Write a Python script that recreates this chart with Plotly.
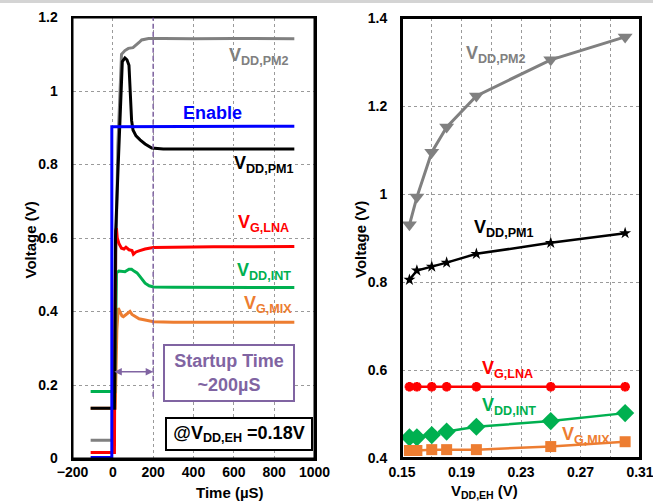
import plotly.graph_objects as go

# ---------------- Left panel: transient waveforms (time in uS, voltage in V) ----------------
t_enable = [-110, -5, -5, 100, 300, 500, 700, 900]
v_enable = [0.003, 0.003, 0.903, 0.903, 0.904, 0.903, 0.904, 0.904]

t_pm2 = [-110, 5, 8, 15, 25, 35, 43, 60, 77, 100, 118, 130, 143, 160, 177, 250, 400, 600, 900]
v_pm2 = [0.05, 0.05, 0.15, 0.55, 0.85, 1.0, 1.10, 1.11, 1.116, 1.118, 1.125, 1.132, 1.139, 1.142, 1.143, 1.143, 1.142, 1.143, 1.142]

t_pm1 = [-110, 8, 10, 13, 26, 38, 47, 60, 70, 80, 85, 90, 93, 100, 115, 135, 160, 193, 250, 400, 600, 900]
v_pm1 = [0.137, 0.137, 0.3, 0.6, 0.79, 0.975, 1.08, 1.09, 1.085, 1.07, 0.99, 0.95, 0.92, 0.894, 0.878, 0.867, 0.856, 0.845, 0.842, 0.842, 0.842, 0.842]

t_lna = [-110, 8, 10, 14, 18, 22, 30, 43, 55, 65, 80, 95, 102, 115, 130, 160, 200, 300, 500, 700, 900]
v_lna = [0.016, 0.016, 0.3, 0.62, 0.627, 0.60, 0.585, 0.572, 0.57, 0.575, 0.568, 0.566, 0.556, 0.562, 0.565, 0.57, 0.574, 0.575, 0.576, 0.576, 0.577]

t_int = [-110, 10, 14, 18, 30, 60, 80, 93, 105, 120, 135, 150, 160, 180, 202, 300, 500, 700, 900]
v_int = [0.182, 0.182, 0.35, 0.505, 0.51, 0.508, 0.515, 0.515, 0.51, 0.505, 0.495, 0.482, 0.477, 0.47, 0.467, 0.466, 0.466, 0.465, 0.465]

t_mix = [-110, 12, 16, 20, 27, 35, 45, 52, 65, 75, 85, 95, 110, 130, 160, 202, 300, 500, 700, 900]
v_mix = [0.137, 0.137, 0.25, 0.35, 0.409, 0.40, 0.388, 0.386, 0.392, 0.398, 0.40, 0.392, 0.386, 0.38, 0.377, 0.372, 0.371, 0.371, 0.370, 0.371]

startup_time = 200
vdd_eh_note = "@V<sub>DD,EH</sub> =0.18V"

left_xticks = [-200, 0, 200, 400, 600, 800, 1000]
left_yticks = [0, 0.2, 0.4, 0.6, 0.8, 1.0, 1.2]

# ---------------- Right panel: DC levels vs V_DD,EH ----------------
vdd_eh = [0.155, 0.16, 0.17, 0.18, 0.2, 0.25, 0.3]
r_pm2 = [0.93, 0.993, 1.095, 1.152, 1.223, 1.305, 1.357]
r_pm1 = [0.805, 0.826, 0.835, 0.844, 0.864, 0.889, 0.911]
r_lna = [0.562, 0.562, 0.562, 0.562, 0.562, 0.562, 0.562]
r_int = [0.447, 0.447, 0.452, 0.46, 0.471, 0.484, 0.502]
r_mix = [0.417, 0.417, 0.419, 0.419, 0.419, 0.426, 0.437]

right_xticks = [0.15, 0.19, 0.23, 0.27, 0.31]
right_xlabels = ["0.15", "0.19", "0.23", "0.27", "0.31"]
right_xminor = [0.17, 0.21, 0.25, 0.29]
right_yticks = [0.4, 0.6, 0.8, 1.0, 1.2, 1.4]

GRAY = "#808080"
BLACK = "#000000"
BLUE = "#0000FF"
RED = "#FF0000"
GREEN = "#00B050"
ORANGE = "#ED7D31"
PURPLE = "#8064A2"
FONT = "Liberation Sans"
GRID = "#9A9A9A"

fig = go.Figure()

# left traces (drawing order: gray, orange, green, red, black, blue)
for t, v, c in [(t_pm2, v_pm2, GRAY), (t_mix, v_mix, ORANGE), (t_int, v_int, GREEN),
                (t_lna, v_lna, RED), (t_pm1, v_pm1, BLACK), (t_enable, v_enable, BLUE)]:
    fig.add_trace(go.Scatter(x=t, y=v, mode="lines", line=dict(color=c, width=3),
                             xaxis="x", yaxis="y", showlegend=False, hoverinfo="skip"))

# right traces
for y, c, sym, sz in [(r_pm2, GRAY, "triangle-down", 13), (r_pm1, BLACK, "star", 9),
                      (r_lna, RED, "asterisk-open", 8), (r_int, GREEN, "diamond", 14),
                      (r_mix, ORANGE, "square", 11)]:
    mk = dict(symbol=sym, size=sz, color=c)
    if sym == "asterisk-open":
        mk["line"] = dict(color=c, width=3)
    fig.add_trace(go.Scatter(x=vdd_eh, y=y, mode="lines+markers",
                             line=dict(color=c, width=3 if c == GRAY else 2.5),
                             marker=mk, xaxis="x2", yaxis="y2", showlegend=False))

H, W = 502, 653
axis_common = dict(showline=True, linewidth=2, linecolor="black", mirror=True,
                   showgrid=True, gridcolor=GRID, griddash="dot", gridwidth=1,
                   ticks="", zeroline=False, automargin=False, ticklabeloverflow="allow",
                   tickfont=dict(family=FONT, size=14, color="black", weight="bold"))

fig.update_layout(
    width=W, height=H,
    margin=dict(l=0, r=0, t=0, b=0, autoexpand=False),
    paper_bgcolor="white", plot_bgcolor="white",
    xaxis=dict(domain=[72.5 / W, 314.5 / W], range=[-200, 1000], tickvals=left_xticks,
               anchor="y", ticklabelstandoff=0, **axis_common),
    yaxis=dict(domain=[1 - 458.5 / H, 1 - 17.5 / H], range=[0, 1.2], tickvals=left_yticks,
               anchor="x", ticklabelstandoff=10, **axis_common),
    xaxis2=dict(domain=[402 / W, 640 / W], range=[0.15, 0.31], tickvals=right_xticks,
                ticktext=right_xlabels, anchor="y2", ticklabelstandoff=0,
                minor=dict(tickvals=right_xminor, showgrid=True, gridcolor=GRID,
                           griddash="dot", gridwidth=1, ticks=""),
                **axis_common),
    yaxis2=dict(domain=[1 - 458 / H, 1 - 18 / H], range=[0.4, 1.4], tickvals=right_yticks,
                anchor="x2", ticklabelstandoff=10, **axis_common),
)

# top gray strip
fig.add_shape(type="rect", xref="paper", yref="paper", x0=0, x1=1, y0=1 - 3 / H, y1=1,
              fillcolor="#D4D4D4", line=dict(width=0), layer="below")

# panel frames
for xr, yr in [("x domain", "y domain"), ("x2 domain", "y2 domain")]:
    fig.add_shape(type="rect", xref=xr, yref=yr, x0=0, x1=1, y0=0, y1=1,
                  line=dict(color="black", width=2), fillcolor="rgba(0,0,0,0)", layer="above")

# startup dashed line
fig.add_shape(type="line", xref="x", yref="y", x0=startup_time, x1=startup_time, y0=0.168, y1=1.2,
              line=dict(color=PURPLE, width=1.5, dash="5px,3px"))

ann = []
def lab(x, y, text, color, xr="x", yr="y", size=18):
    ann.append(dict(x=x, y=y, xref=xr, yref=yr, text=text, showarrow=False,
                    font=dict(family=FONT, size=size, color=color, weight="bold"),
                    xanchor="center", yanchor="middle"))

# left labels
lab(727, 1.094, "V<sub>DD,PM2</sub>", GRAY)
lab(495, 0.94, "Enable", BLUE)
lab(752, 0.80, "V<sub>DD,PM1</sub>", BLACK)
lab(747, 0.64, "V<sub>G,LNA</sub>", RED)
lab(750, 0.51, "V<sub>DD,INT</sub>", GREEN)
lab(767, 0.42, "V<sub>G,MIX</sub>", ORANGE)
# right labels
lab(0.2135, 1.316, "V<sub>DD,PM2</sub>", GRAY, "x2", "y2")
lab(0.2189, 0.922, "V<sub>DD,PM1</sub>", BLACK, "x2", "y2")
lab(0.2206, 0.602, "V<sub>G,LNA</sub>", RED, "x2", "y2")
lab(0.222, 0.517, "V<sub>DD,INT</sub>", GREEN, "x2", "y2")
lab(0.2734, 0.452, "V<sub>G,MIX</sub>", ORANGE, "x2", "y2")

# double arrow for startup time
ann.append(dict(x=startup_time, y=0.236, ax=0, ay=0.236, xref="x", yref="y", axref="x", ayref="y",
                text="", showarrow=True, arrowside="end+start", arrowhead=2, arrowsize=1,
                arrowwidth=1.5, arrowcolor=PURPLE))
# startup box
ann.append(dict(x=575, y=0.234, xref="x", yref="y", text="Startup Time<br>~200µS", showarrow=False,
                font=dict(family=FONT, size=18, color=PURPLE, weight="bold"),
                bordercolor=PURPLE, borderwidth=2, borderpad=3, width=122, height=48,
                bgcolor="white", xanchor="center", yanchor="middle"))
# VDD,EH note box
ann.append(dict(x=628, y=0.068, xref="x", yref="y", text=vdd_eh_note, showarrow=False,
                font=dict(family=FONT, size=18, color="black", weight="bold"),
                bordercolor="black", borderwidth=2, borderpad=3, width=138, height=24,
                bgcolor="white", xanchor="center", yanchor="middle"))

# axis titles
tf = dict(family=FONT, size=15, color="black", weight="bold")
ann.append(dict(x=19 / W, y=1 - 240 / H, xref="paper", yref="paper", text="Voltage (V)",
                textangle=-90, showarrow=False, font=tf))
ann.append(dict(x=360 / W, y=1 - 240 / H, xref="paper", yref="paper", text="Voltage (V)",
                textangle=-90, showarrow=False, font=tf))
ann.append(dict(x=194 / W, y=0, xref="paper", yref="paper", text="Time (µS)",
                showarrow=False, font=tf, yanchor="bottom", yshift=-1))
ann.append(dict(x=520 / W, y=0, xref="paper", yref="paper", text="V<sub>DD,EH</sub> (V)",
                showarrow=False, font=tf, yanchor="bottom", yshift=-1))

fig.update_layout(annotations=ann)
fig.write_html(
    "out.html",
    config={"displayModeBar": False, "responsive": False},
    post_script=("document.body.style.margin='0';"
                 "document.body.style.overflow='hidden';"
                 "document.documentElement.style.overflow='hidden';"),
)
